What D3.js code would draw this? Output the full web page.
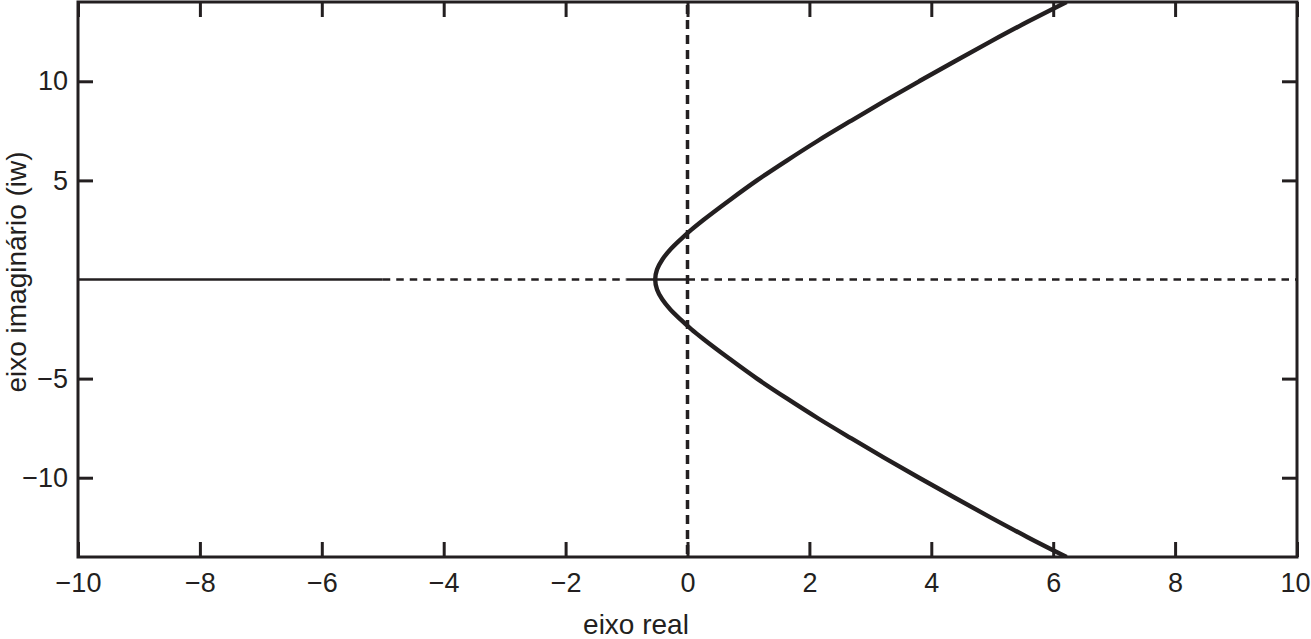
<!DOCTYPE html>
<html>
<head>
<meta charset="utf-8">
<script src="https://cdn.jsdelivr.net/npm/d3@7/dist/d3.min.js"></script>
<style>
  html, body { margin: 0; padding: 0; background: #fff; }
  svg { display: block; }
  text { font-family: "Liberation Sans", Arial, Helvetica, sans-serif; fill: #231f20; }
</style>
</head>
<body>
<svg id="chart" width="1311" height="639"></svg>
<script>
// ---- data ----
const xTicks = [-10, -8, -6, -4, -2, 0, 2, 4, 6, 8, 10];
const yTicks = [-10, -5, 5, 10];
const xDomain = [-10, 10];
const yDomain = [-14, 14];

// root locus branch: imaginary part and real part
const upperImag = [0, 0.5, 1, 1.5, 2, 2.5, 3, 4, 5, 6, 7, 8, 9, 10, 11, 12, 13, 14];
const upperReal = [-0.53, -0.50, -0.415, -0.285, -0.12, 0.06, 0.26, 0.69, 1.14, 1.63, 2.14, 2.68, 3.23, 3.80, 4.38, 4.97, 5.58, 6.22];
const lowerImag = [0, -0.5, -1, -1.5, -2, -2.5, -3, -4, -5, -6, -7, -8, -9, -10, -11, -12, -13, -14];
const lowerReal = [-0.53, -0.50, -0.415, -0.285, -0.12, 0.06, 0.26, 0.69, 1.14, 1.63, 2.14, 2.68, 3.23, 3.80, 4.38, 4.97, 5.58, 6.22];

// real-axis segments: start, end, dashed
const segStart = [-10, -5, -1, 0];
const segEnd = [-5, -1, 0, 10];
const segDashed = [false, true, false, true];

const xTitle = "eixo real";
const yTitle = "eixo imaginário (iw)";

// ---- layout ----
const ink = "#231f20";
const L = 78, R = 1297, T = 2, B = 557;
const svg = d3.select("#chart");
const x = d3.scaleLinear().domain(xDomain).range([L, R]);
const y = d3.scaleLinear().domain(yDomain).range([B, T]);

svg.append("defs").append("clipPath").attr("id", "clip")
  .append("rect").attr("x", L).attr("y", T).attr("width", R - L).attr("height", B - T);

const plot = svg.append("g").attr("clip-path", "url(#clip)");

// real axis segments
segStart.forEach((s, i) => {
  plot.append("line")
    .attr("x1", x(s)).attr("x2", x(segEnd[i]))
    .attr("y1", y(0)).attr("y2", y(0))
    .attr("stroke", ink).attr("stroke-width", 2.5)
    .attr("stroke-dasharray", segDashed[i] ? "7.5,6" : null);
});

// imaginary axis dashed
plot.append("line")
  .attr("x1", x(0)).attr("x2", x(0))
  .attr("y1", y(yDomain[1]) + 3).attr("y2", y(yDomain[0]))
  .attr("stroke", ink).attr("stroke-width", 3.5)
  .attr("stroke-dasharray", "9,6");

// locus curve (real part as a function of the imaginary part)
const pts = lowerImag.map((v, i) => [lowerReal[i], v])
  .concat(upperImag.slice(1).map((v, i) => [upperReal[i + 1], v]));
pts.sort((a, b) => a[1] - b[1]);
const line = d3.line().x(d => x(d[0])).y(d => y(d[1])).curve(d3.curveMonotoneY);
plot.append("path").datum(pts)
  .attr("d", line)
  .attr("fill", "none").attr("stroke", ink).attr("stroke-width", 4.4)
  .attr("stroke-linejoin", "round");

// axes
function styleAxis(g) {
  g.selectAll(".domain").remove();
  g.selectAll(".tick line").attr("stroke", ink).attr("stroke-width", 3);
  g.selectAll(".tick text").style("font-size", "27px").attr("fill", ink)
    .style("font-family", '"Liberation Sans", Arial, Helvetica, sans-serif');
}
const xb = svg.append("g").attr("transform", `translate(0,${B})`)
  .call(d3.axisBottom(x).tickValues(xTicks).tickSize(-15).tickPadding(16).tickFormat(d3.format("d")))
  .call(styleAxis);
xb.selectAll(".tick text").filter(d => d === 10).attr("x", -2);
svg.append("g").attr("transform", `translate(0,${T})`)
  .call(d3.axisTop(x).tickValues(xTicks).tickSize(-15).tickFormat(""))
  .call(styleAxis);
svg.append("g").attr("transform", `translate(${L},0)`)
  .call(d3.axisLeft(y).tickValues(yTicks).tickSize(-15).tickPadding(10).tickFormat(d3.format("d")))
  .call(styleAxis);
svg.append("g").attr("transform", `translate(${R},0)`)
  .call(d3.axisRight(y).tickValues(yTicks).tickSize(-15).tickFormat(""))
  .call(styleAxis);

// frame
svg.append("rect").attr("x", L).attr("y", T).attr("width", R - L).attr("height", B - T)
  .attr("fill", "none").attr("stroke", ink).attr("stroke-width", 3);

// titles
svg.append("text").attr("x", 636).attr("y", 634)
  .attr("text-anchor", "middle").style("font-size", "28px").text(xTitle);
svg.append("text").attr("transform", "translate(26,272) rotate(-90)")
  .attr("text-anchor", "middle").style("font-size", "28px").text(yTitle);
</script>
</body>
</html>
